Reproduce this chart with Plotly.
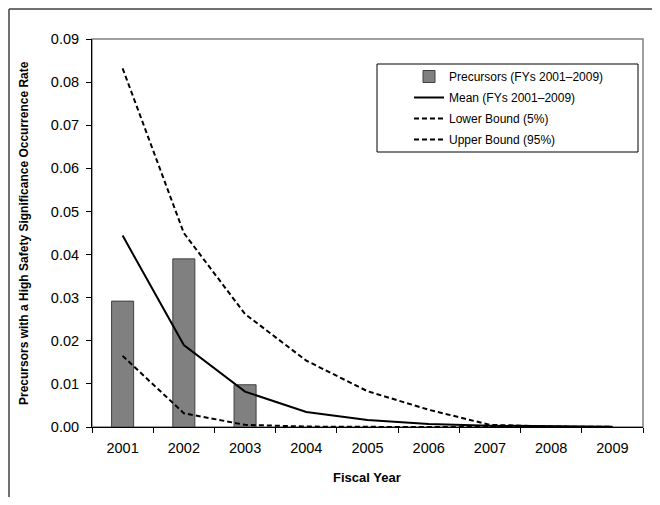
import plotly.graph_objects as go

# --- Data ---
years = ["2001", "2002", "2003", "2004", "2005", "2006", "2007", "2008", "2009"]
precursors = [0.0292, 0.0390, 0.0098, None, None, None, None, None, None]
mean_rate = [0.0444, 0.0190, 0.0082, 0.0035, 0.0016, 0.0007, 0.0003, 0.0001, 0.00005]
lower_bound = [0.0165, 0.0032, 0.0005, 0.0001, 0.00003, 0.00001, 0.0, 0.0, 0.0]
upper_bound = [0.0832, 0.0450, 0.0262, 0.0154, 0.0083, 0.0040, 0.0005, 0.0001, 0.00005]

FONT = "Liberation Sans, Arial, sans-serif"
# page body has an 8px margin all round, so keep the figure inside the window
W, H = 644, 489
L, R, T, B = 84, 9, 31, 70
pw, ph = W - L - R, H - T - B


# window pixel -> paper coords
def px(x):
    return (x - 92) / pw


def py(y):
    return (427 - y) / ph


fig = go.Figure()

fig.add_trace(go.Bar(
    x=years, y=precursors, name="Precursors (FYs 2001\u20132009)",
    marker=dict(color="#808080", line=dict(color="#404040", width=1)),
    width=0.36, legendgroup="a",
))
fig.add_trace(go.Scatter(
    x=years, y=mean_rate, mode="lines", name="Mean (FYs 2001\u20132009)",
    line=dict(color="black", width=2), legendgroup="b",
))
fig.add_trace(go.Scatter(
    x=years, y=lower_bound, mode="lines", name="Lower Bound (5%)",
    line=dict(color="black", width=2, dash="5px,3px"), legendgroup="c",
))
fig.add_trace(go.Scatter(
    x=years, y=upper_bound, mode="lines", name="Upper Bound (95%)",
    line=dict(color="black", width=2, dash="5px,3px"), legendgroup="d",
))

frame = dict(color="#404040", width=1.5)
shapes = [
    # outer chart frame: only the top and left edges are in the picture
    dict(type="line", xref="paper", yref="paper",
         x0=px(9), x1=px(665), y0=py(9), y1=py(9), line=frame, layer="below"),
    dict(type="line", xref="paper", yref="paper",
         x0=px(9), x1=px(9), y0=py(9), y1=py(510), line=frame, layer="below"),
    # plot area border
    dict(type="rect", xref="paper", yref="paper",
         x0=0, x1=1, y0=0, y1=1,
         line=dict(color="#808080", width=1.5), layer="below"),
    # legend box
    dict(type="rect", xref="paper", yref="paper",
         x0=px(377), x1=px(638), y0=py(152), y1=py(64),
         line=dict(color="black", width=1), fillcolor="white", layer="below"),
]

annotations = [
    dict(text="<b>Fiscal Year</b>", xref="paper", yref="paper",
         x=px(367), y=py(477), xanchor="center", yanchor="middle",
         showarrow=False, font=dict(size=13)),
    dict(text="<b>Precursors with a High Safety Significance Occurrence Rate</b>",
         xref="paper", yref="paper", x=px(24), y=py(233), textangle=-90,
         xanchor="center", yanchor="middle", showarrow=False, font=dict(size=12)),
]

fig.update_layout(
    width=W, height=H,
    margin=dict(l=L, r=R, t=T, b=B),
    paper_bgcolor="white", plot_bgcolor="white",
    font=dict(family=FONT, color="black", size=14),
    showlegend=True,
    legend=dict(
        x=px(409), y=py(62), xanchor="left", yanchor="top",
        bgcolor="rgba(0,0,0,0)", borderwidth=0,
        font=dict(size=12, family=FONT),
        tracegroupgap=2, traceorder="grouped",
    ),
    shapes=shapes,
    annotations=annotations,
    xaxis=dict(
        type="category", showline=True, linecolor="black", linewidth=1,
        ticks="outside", tickson="boundaries", ticklen=5, tickcolor="black",
        showgrid=False, tickfont=dict(size=14.5), ticklabelstandoff=8,
    ),
    yaxis=dict(
        range=[0, 0.09], dtick=0.01, tickformat=".2f",
        showline=True, linecolor="black", linewidth=1,
        ticks="outside", ticklen=5, tickcolor="black",
        showgrid=False, zeroline=False, tickfont=dict(size=14.5),
        ticklabelstandoff=4,
    ),
)

fig.write_html("out.html")
